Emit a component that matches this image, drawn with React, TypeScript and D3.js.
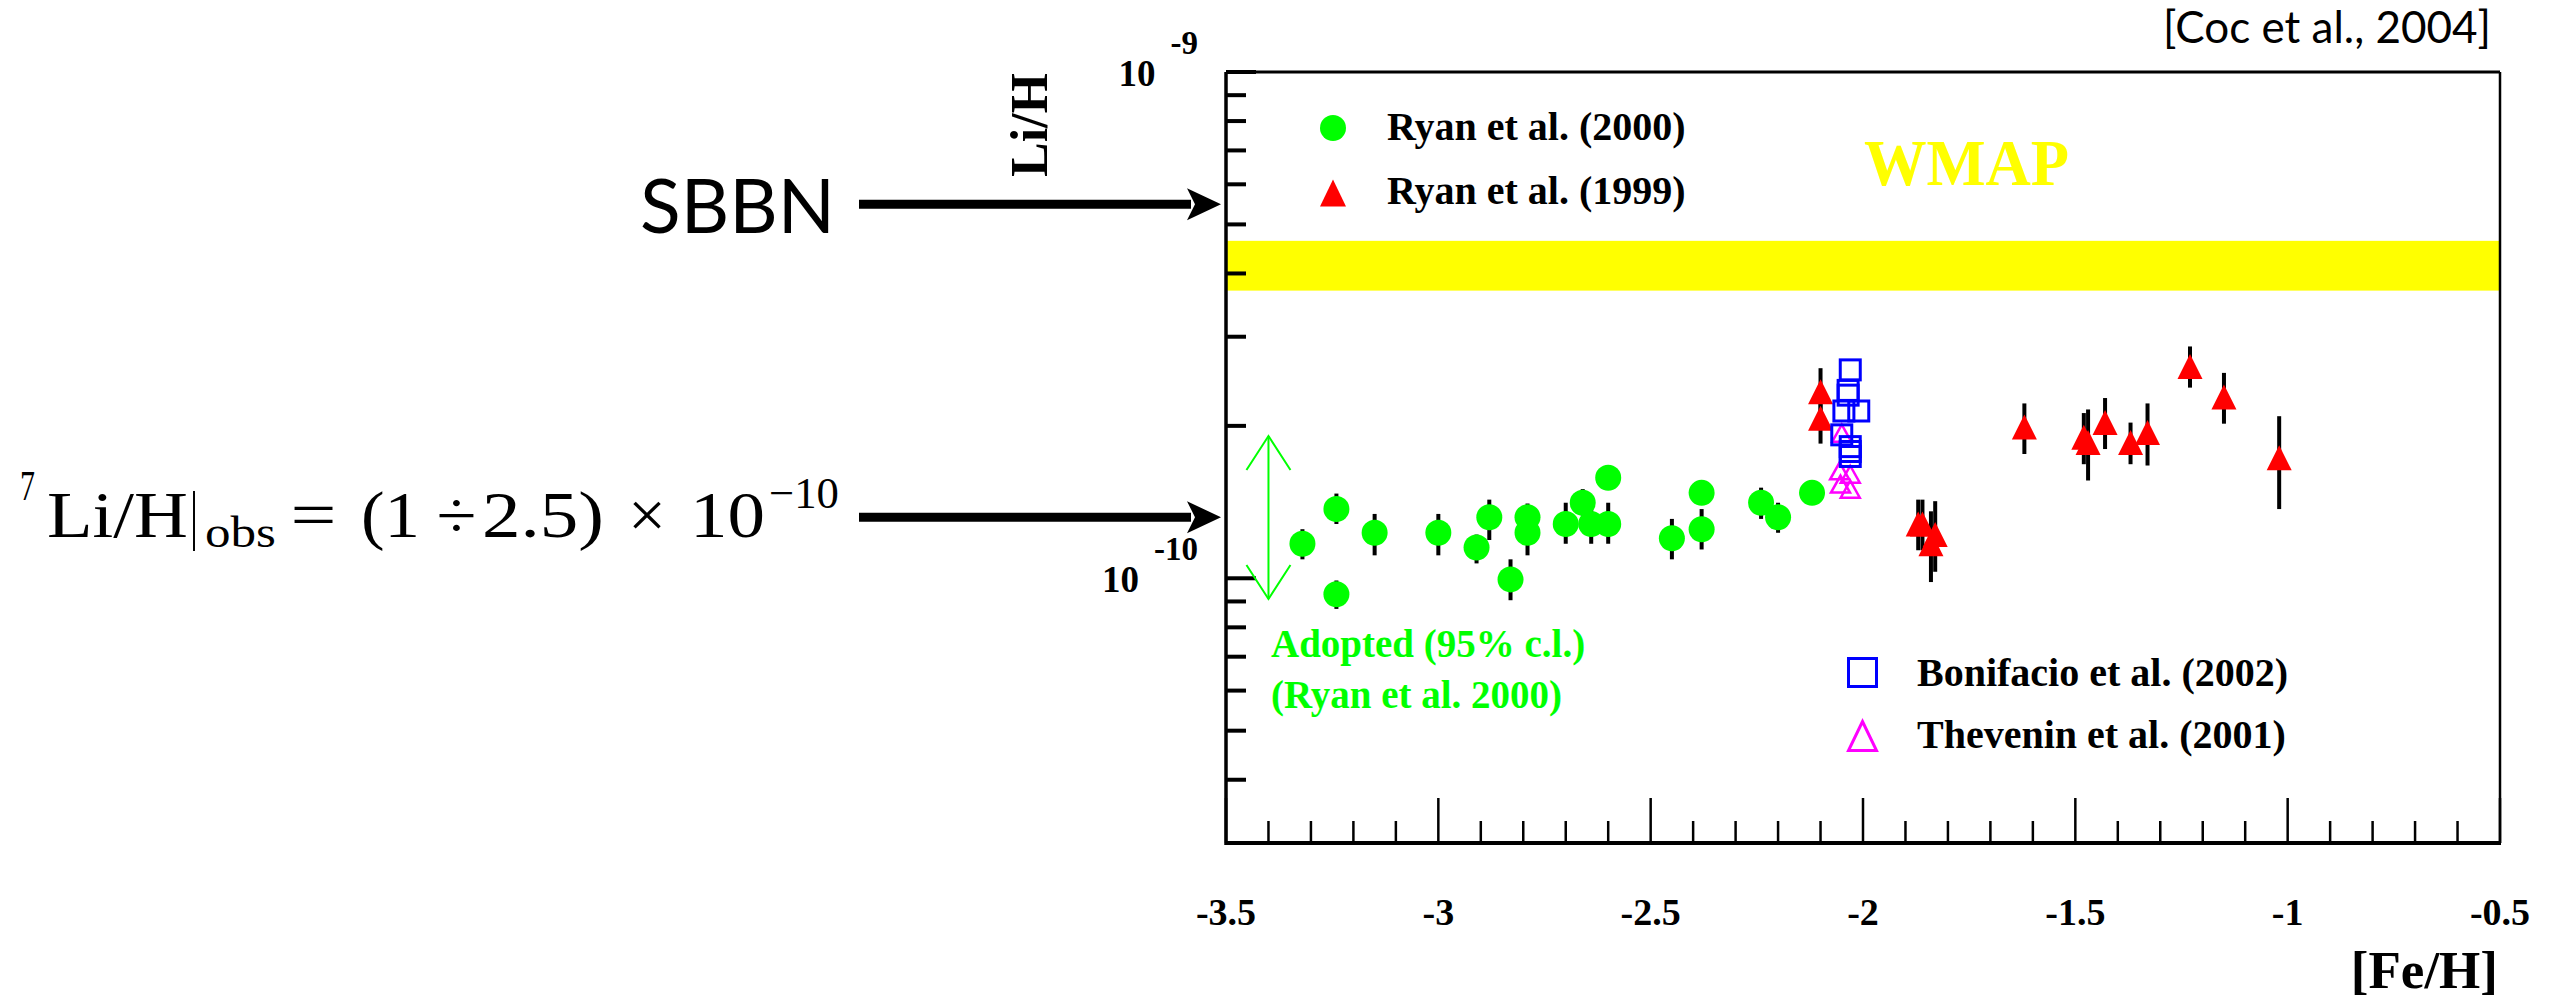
import React from "react";
import * as d3 from "d3";

const W = 2564;
const H = 1000;

// ---------- data (Li/H in units of 1e-10) ----------
// Ryan et al. (2000) – green filled circles
const ryan2000FeH = [-3.32, -3.24, -3.24, -3.15, -3.0, -2.91, -2.88, -2.83, -2.79, -2.79, -2.7, -2.66, -2.64, -2.6, -2.6, -2.45, -2.38, -2.38, -2.24, -2.2, -2.12];
const ryan2000Li = [1.17, 1.37, 0.93, 1.23, 1.23, 1.15, 1.32, 0.995, 1.32, 1.23, 1.28, 1.41, 1.28, 1.28, 1.58, 1.2, 1.475, 1.25, 1.41, 1.32, 1.475];
const ryan2000Lo = [1.09, 1.28, 0.87, 1.11, 1.11, 1.07, 1.19, 0.905, 1.23, 1.11, 1.17, 1.33, 1.17, 1.17, 1.55, 1.09, 1.45, 1.14, 1.31, 1.23, 1.45];
const ryan2000Hi = [1.25, 1.47, 0.99, 1.34, 1.34, 1.22, 1.43, 1.09, 1.405, 1.34, 1.41, 1.5, 1.4, 1.41, 1.61, 1.31, 1.5, 1.37, 1.51, 1.41, 1.5];

// Ryan et al. (1999) – red filled triangles
const ryan1999FeH = [-2.1, -2.1, -1.87, -1.86, -1.84, -1.83, -1.62, -1.48, -1.47, -1.43, -1.37, -1.33, -1.23, -1.15, -1.02];
const ryan1999Li = [2.335, 2.07, 1.28, 1.28, 1.17, 1.22, 1.99, 1.9, 1.855, 2.03, 1.855, 1.94, 2.62, 2.28, 1.73];
const ryan1999Lo = [2.09, 1.845, 1.136, 1.136, 0.983, 1.03, 1.76, 1.68, 1.56, 1.8, 1.68, 1.67, 2.38, 2.02, 1.37];
const ryan1999Hi = [2.6, 2.32, 1.43, 1.43, 1.356, 1.42, 2.215, 2.12, 2.155, 2.27, 2.03, 2.215, 2.87, 2.545, 2.09];

// Bonifacio et al. (2002) – blue open squares
const bonifacioFeH = [-2.03, -2.035, -2.035, -2.045, -2.01, -2.05, -2.03, -2.03, -2.03];
const bonifacioLi = [2.58, 2.35, 2.3, 2.14, 2.14, 1.92, 1.82, 1.78, 1.74];

// Thevenin et al. (2001) – magenta open triangles
const theveninFeH = [-2.05, -2.055, -2.03, -2.053, -2.03];
const theveninLi = [1.935, 1.63, 1.605, 1.535, 1.5];

// bands / annotations
const wmapBand = [3.7, 4.64];
const adoptedRange = [0.91, 1.91];
const adoptedFeH = -3.4;
const sbbnLi = 5.48;
const obsLi = 1.32;

// axes
const xDomain = [-3.5, -0.5];
const yDomain = [0.3, 10];
const xMajorTicks = [-3.5, -3, -2.5, -2, -1.5, -1, -0.5];
const xTickLabels = ["-3.5", "-3", "-2.5", "-2", "-1.5", "-1", "-0.5"];
const yMajorTicks = [1, 10];
const yMajorExp = ["-10", "-9"];
const yMinorTicks = [0.4, 0.5, 0.6, 0.7, 0.8, 0.9, 2, 3, 4, 5, 6, 7, 8, 9];

const SERIF = "'Liberation Serif', 'Times New Roman', serif";
const SANS = "Lato, 'Open Sans', sans-serif";

const GREEN = "#00ff00";
const RED = "#ff0000";
const BLUE = "#0000ff";
const MAGENTA = "#ff00ff";
const YELLOW = "#ffff00";

function triPath(cx: number, cy: number, w: number, h: number) {
  return `M${cx},${cy - h / 2}L${cx + w / 2},${cy + h / 2}L${cx - w / 2},${cy + h / 2}Z`;
}

function Arrow({ x1, x2, yv }: { x1: number; x2: number; yv: number }) {
  const headL = 34;
  const headH = 16;
  return (
    <g>
      <line x1={x1} y1={yv} x2={x2 - headL + 4} y2={yv} stroke="#000" strokeWidth={9} />
      <path d={`M${x2},${yv}L${x2 - headL},${yv - headH}L${x2 - headL + 8},${yv}L${x2 - headL},${yv + headH}Z`} fill="#000" />
    </g>
  );
}

// formula pieces: [text, centre x, width, baselineOffset, fontSize]
const formulaPieces: [string, number, number, number, number][] = [
  ["7", 27.5, 15, -37, 42],
  ["Li/H", 117.5, 141, 0, 66],
  ["|", 194, 8, 0, 66],
  ["obs", 240.5, 71, 10, 44],
  ["=", 313.5, 46, 0, 66],
  ["(1", 390.5, 59, 0, 66],
  ["÷", 456.5, 40, 0, 66],
  ["2.5)", 543, 122, 0, 66],
  ["×", 647, 38, 0, 66],
  ["10", 727.5, 75, 0, 66],
  ["−10", 804, 70, -29, 44],
];

export default function App() {
  const left = 1226, right = 2500, top = 72, bottom = 843;
  const x = d3.scaleLinear().domain(xDomain).range([left, right]);
  const y = d3.scaleLog().domain(yDomain).range([bottom, top]);

  const xMinor = d3.range(-3.4, -0.5, 0.1).map((v) => Math.round(v * 10) / 10).filter((v) => Math.abs(v * 2 - Math.round(v * 2)) > 1e-6);
  const formulaBase = 537;

  return (
    <svg width={W} height={H} style={{ position: "absolute", left: 0, top: 0, background: "#fff" }}>
      <rect x={0} y={0} width={W} height={H} fill="#fff" />

      {/* WMAP band */}
      <rect x={left} y={y(wmapBand[1])} width={right - left} height={y(wmapBand[0]) - y(wmapBand[1])} fill={YELLOW} />
      <text x={1864} y={185} fontFamily={SERIF} fontWeight="bold" fontSize={66} fill={YELLOW} textLength={205} lengthAdjust="spacingAndGlyphs">WMAP</text>

      {/* frame */}
      <line x1={left} y1={top} x2={right} y2={top} stroke="#000" strokeWidth={3} />
      <line x1={right} y1={top} x2={right} y2={bottom} stroke="#000" strokeWidth={2.5} />
      <line x1={left} y1={top} x2={left} y2={bottom + 2} stroke="#000" strokeWidth={3.5} />
      <line x1={left} y1={bottom} x2={right + 1} y2={bottom} stroke="#000" strokeWidth={4} />

      {/* y ticks */}
      {yMinorTicks.map((t) => (
        <line key={"ym" + t} x1={left} x2={left + 20} y1={y(t)} y2={y(t)} stroke="#000" strokeWidth={4} />
      ))}
      {yMajorTicks.map((t, i) => (
        <g key={"yM" + t}>
          <line x1={left} x2={left + 30} y1={y(t)} y2={y(t)} stroke="#000" strokeWidth={4} />
          <text x={1198} y={y(t) + 14} textAnchor="end" fontFamily={SERIF} fontWeight="bold" fontSize={37}>
            <tspan>10</tspan>
            <tspan dx={15} dy={-32} fontSize={33}>{yMajorExp[i]}</tspan>
          </text>
        </g>
      ))}

      {/* x ticks */}
      {xMinor.map((t) => (
        <line key={"xm" + t} x1={x(t)} x2={x(t)} y1={bottom} y2={bottom - 22} stroke="#000" strokeWidth={2.5} />
      ))}
      {xMajorTicks.map((t, i) => (
        <g key={"xM" + t}>
          <line x1={x(t)} x2={x(t)} y1={bottom} y2={bottom - 45} stroke="#000" strokeWidth={2.5} />
          <text x={x(t)} y={925} textAnchor="middle" fontFamily={SERIF} fontWeight="bold" fontSize={38}>{xTickLabels[i]}</text>
        </g>
      ))}

      {/* axis titles */}
      <text transform="translate(1047,125) rotate(-90)" textAnchor="middle" fontFamily={SERIF} fontWeight="bold" fontSize={52}>Li/H</text>
      <text x={2498} y={988} textAnchor="end" fontFamily={SERIF} fontWeight="bold" fontSize={53}>[Fe/H]</text>

      {/* adopted range arrow */}
      <g stroke={GREEN} strokeWidth={2} fill="none">
        <line x1={x(adoptedFeH)} x2={x(adoptedFeH)} y1={y(adoptedRange[1])} y2={y(adoptedRange[0])} />
        <path d={`M${x(adoptedFeH) - 22},${y(adoptedRange[1]) + 34}L${x(adoptedFeH)},${y(adoptedRange[1])}L${x(adoptedFeH) + 22},${y(adoptedRange[1]) + 34}`} />
        <path d={`M${x(adoptedFeH) - 22},${y(adoptedRange[0]) - 34}L${x(adoptedFeH)},${y(adoptedRange[0])}L${x(adoptedFeH) + 22},${y(adoptedRange[0]) - 34}`} />
      </g>
      <text x={1271} y={657} fontFamily={SERIF} fontWeight="bold" fontSize={39} fill={GREEN}>Adopted (95% c.l.)</text>
      <text x={1271} y={708} fontFamily={SERIF} fontWeight="bold" fontSize={39} fill={GREEN}>(Ryan et al. 2000)</text>

      {/* Ryan 2000 */}
      <g>
        {ryan2000FeH.map((f, i) => (
          <line key={"e0" + i} x1={x(f)} x2={x(f)} y1={y(ryan2000Lo[i])} y2={y(ryan2000Hi[i])} stroke="#000" strokeWidth={4} />
        ))}
        {ryan2000FeH.map((f, i) => (
          <circle key={"c0" + i} cx={x(f)} cy={y(ryan2000Li[i])} r={13} fill={GREEN} />
        ))}
      </g>

      {/* Ryan 1999 */}
      <g>
        {ryan1999FeH.map((f, i) => (
          <line key={"e1" + i} x1={x(f)} x2={x(f)} y1={y(ryan1999Lo[i])} y2={y(ryan1999Hi[i])} stroke="#000" strokeWidth={4} />
        ))}
        {ryan1999FeH.map((f, i) => (
          <path key={"t1" + i} d={triPath(x(f), y(ryan1999Li[i]), 25, 25)} fill={RED} />
        ))}
      </g>

      {/* Thevenin */}
      <g>
        {theveninFeH.map((f, i) => (
          <path key={"t2" + i} d={triPath(x(f), y(theveninLi[i]), 19, 17)} fill="none" stroke={MAGENTA} strokeWidth={2.5} />
        ))}
      </g>

      {/* Bonifacio */}
      <g>
        {bonifacioFeH.map((f, i) => (
          <rect key={"s" + i} x={x(f) - 10} y={y(bonifacioLi[i]) - 10} width={20} height={20} fill="none" stroke={BLUE} strokeWidth={3} />
        ))}
      </g>

      {/* legends */}
      <circle cx={1333} cy={128} r={13} fill={GREEN} />
      <text x={1387} y={140} fontFamily={SERIF} fontWeight="bold" fontSize={40}>Ryan et al. (2000)</text>
      <path d={triPath(1333, 193, 26, 27)} fill={RED} />
      <text x={1387} y={204} fontFamily={SERIF} fontWeight="bold" fontSize={40}>Ryan et al. (1999)</text>

      <rect x={1848.5} y={658.5} width={28} height={28} fill="none" stroke={BLUE} strokeWidth={3} />
      <text x={1917} y={686} fontFamily={SERIF} fontWeight="bold" fontSize={40}>Bonifacio et al. (2002)</text>
      <path d={triPath(1862.5, 736, 28, 29)} fill="none" stroke={MAGENTA} strokeWidth={3} />
      <text x={1917} y={748} fontFamily={SERIF} fontWeight="bold" fontSize={40}>Thevenin et al. (2001)</text>

      {/* citation */}
      <text x={2491} y={43} textAnchor="end" fontFamily={SANS} fontSize={44}>[Coc et al., 2004]</text>

      {/* SBBN annotation */}
      <text x={835} y={233} textAnchor="end" fontFamily={SANS} fontSize={75}>SBBN</text>
      <Arrow x1={859} x2={1221} yv={y(sbbnLi)} />

      {/* observed annotation */}
      <g fontFamily={SERIF} fill="#000">
        {formulaPieces.map(([t, cx, w, dy, fs], i) => (
          <text key={"f" + i} x={cx} y={formulaBase + dy} textAnchor="middle" fontSize={fs} textLength={w} lengthAdjust="spacingAndGlyphs">{t}</text>
        ))}
      </g>
      <Arrow x1={859} x2={1221} yv={y(obsLi)} />
    </svg>
  );
}
